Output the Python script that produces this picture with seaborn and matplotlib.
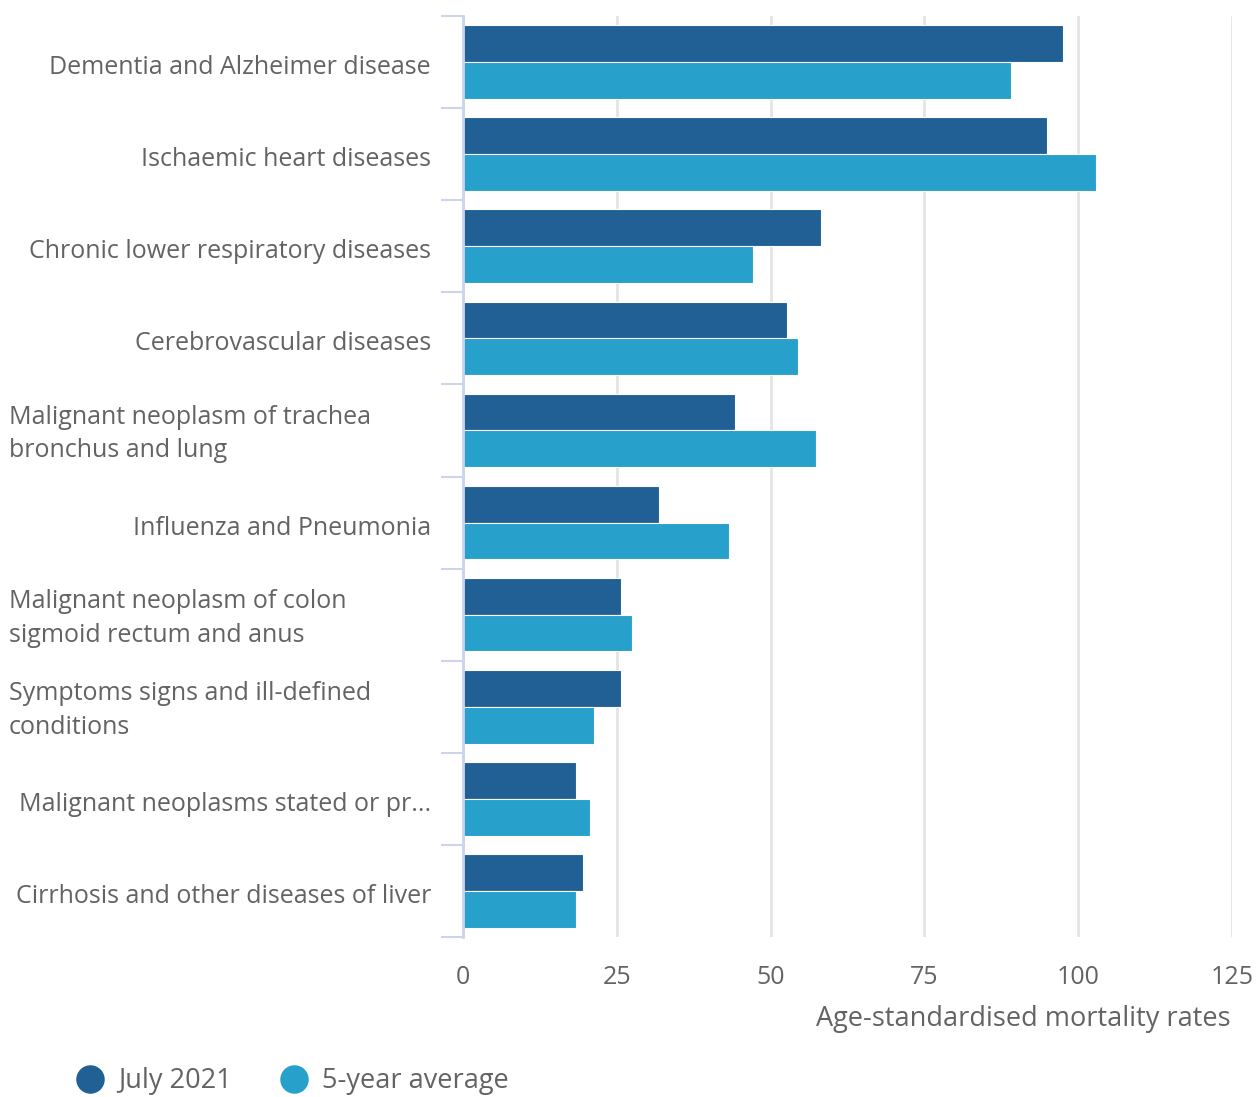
import matplotlib
matplotlib.use("Agg")
import matplotlib.pyplot as plt
import matplotlib.transforms as mtransforms
from matplotlib.lines import Line2D
import seaborn as sns
import pandas as pd
import numpy as np

categories = [
    "Dementia and Alzheimer disease",
    "Ischaemic heart diseases",
    "Chronic lower respiratory diseases",
    "Cerebrovascular diseases",
    "Malignant neoplasm of trachea\nbronchus and lung",
    "Influenza and Pneumonia",
    "Malignant neoplasm of colon\nsigmoid rectum and anus",
    "Symptoms signs and ill-defined\nconditions",
    "Malignant neoplasms stated or pr...",
    "Cirrhosis and other diseases of liver",
]
july_2021 = [97.5, 94.9, 58.2, 52.7, 44.2, 31.9, 25.7, 25.7, 18.4, 19.5]
five_year_avg = [89.1, 102.9, 47.1, 54.5, 57.4, 43.2, 27.5, 21.3, 20.6, 18.4]
series_names = ["July 2021", "5-year average"]
x_ticks = [0, 25, 50, 75, 100, 125]
x_label = "Age-standardised mortality rates"

colors = ["#206095", "#27a0cc"]
text_color = "#636363"

sns.set_style("white")
plt.rcParams["font.family"] = ["Open Sans", "DejaVu Sans"]

df = pd.DataFrame({
    "cause": categories * 2,
    "rate": july_2021 + five_year_avg,
    "series": [series_names[0]] * len(categories) + [series_names[1]] * len(categories),
})

W, H = 1256, 1097
fig = plt.figure(figsize=(W / 100, H / 100), dpi=100)
ax = fig.add_axes([463 / W, 1 - 937 / H, (1232 - 463) / W, (937 - 16) / H])

sns.barplot(data=df, y="cause", x="rate", hue="series", orient="h",
            palette=colors, saturation=1, width=0.8, ax=ax,
            edgecolor="white", linewidth=0.8, legend=False)

ax.set_xlim(0, 125)
ax.set_ylim(len(categories) - 0.5, -0.5)
ax.set_xticks(x_ticks)
ax.set_xticklabels([str(t) for t in x_ticks], fontsize=18, color=text_color)
ax.tick_params(axis="x", length=0, pad=20)
ax.xaxis.grid(True, color="#e4e4e4", linewidth=2)
ax.set_axisbelow(True)

for s in ["top", "right", "bottom"]:
    ax.spines[s].set_visible(False)
ax.spines["left"].set_color("#ccd4ec")
ax.spines["left"].set_linewidth(2)

# category boundary ticks
ax.set_yticks(np.arange(-0.5, len(categories), 1.0))
ax.set_yticklabels([])
ax.tick_params(axis="y", length=16, width=1.5, color="#ccd4ec", left=True)

ax.set_xlabel("")
ax.set_ylabel("")

# category labels
trans_lab = mtransforms.blended_transform_factory(fig.transFigure, ax.transData)
for i, lab in enumerate(categories):
    if "\n" in lab:
        ax.text(9 / W, i + 0.04, lab, transform=trans_lab, ha="left", va="center",
                fontsize=18, color=text_color, linespacing=1.45)
    else:
        ax.text(431 / W, i + 0.06, lab, transform=trans_lab, ha="right", va="center",
                fontsize=18, color=text_color)

fig.text(1231 / W, 1 - 1019 / H, x_label, ha="right", va="center",
         fontsize=19.5, color=text_color)

# legend
legend_marker_x = [90, 294]
for name, c, mx in zip(series_names, colors, legend_marker_x):
    fig.add_artist(Line2D([mx / W], [1 - 1079 / H], marker="o", linestyle="",
                          markersize=19.5, markerfacecolor=c, markeredgecolor=c,
                          transform=fig.transFigure))
    fig.text((mx + 28) / W, 1 - 1081 / H, name, ha="left", va="center",
             fontsize=19.5, color=text_color)

fig.savefig("out.png", dpi=100, facecolor="white")
